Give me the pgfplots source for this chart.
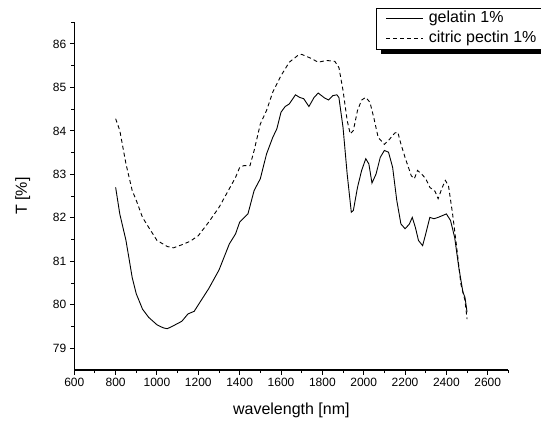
\documentclass[border=0pt]{standalone}
\usepackage{pgfplots}
\pgfplotsset{compat=1.18}
\usepackage{fontspec}
\setmainfont{Liberation Sans}

\begin{document}
\begin{tikzpicture}
% page = 541 x 423 bp, axis box at origin
\useasboundingbox (-74.3bp,-53bp) rectangle (466.7bp,370bp);
\begin{axis}[
  name=ax,
  at={(0,0)}, anchor=south west,
  scale only axis,
  width=434.1bp, height=347.8bp,
  xmin=600, xmax=2700,
  ymin=78.5, ymax=86.5,
  axis x line*=bottom, axis y line*=left,
  xtick={600,800,...,2600},
  minor xtick={700,900,...,2700},
  ytick={79,80,...,86},
  minor ytick={79.5,80.5,...,86.5},
  xtick pos=bottom, ytick pos=left,
  tick align=outside,
  major tick length=4.5bp, minor tick length=3bp,
  every tick/.style={black, line width=1bp},
  axis line style={black, line width=1.2bp},
  /pgf/number format/1000 sep={},
  /pgf/number format/assume math mode=true,
  ticklabel style={font=\fontsize{12bp}{14bp}\selectfont},
  xlabel={wavelength [nm]},
  ylabel={T [\%]},
  label style={font=\fontsize{16bp}{19bp}\selectfont},
  xlabel style={at={(axis description cs:0.5,-0.115)}, anchor=center},
  ylabel style={at={(axis description cs:-0.119,0.5)}, anchor=center},
  legend style={name=leg, at={(0.695,1.042)}, anchor=north west,
    draw=black, line width=0.8bp, fill=white,
    font=\fontsize{16bp}{19bp}\selectfont,
    inner xsep=9.5bp, inner ysep=0.5bp, row sep=0bp,
    nodes={inner xsep=2.5bp, inner ysep=1.5bp, text height=13bp, text depth=4bp}},
  legend cell align=left,
  legend image code/.code={\draw[#1] (0bp,0bp) -- (36.7bp,0bp); \path (39.5bp,0bp);},
]

% gelatin 1%
\addplot[black, line width=0.9bp, mark=none] coordinates {
  (800,82.70) (820,82.09) (850,81.48) (880,80.63) (900,80.25) (930,79.90)
  (960,79.71) (1000,79.54) (1030,79.47) (1050,79.45) (1080,79.52) (1120,79.62)
  (1150,79.79) (1180,79.85) (1200,80.00) (1250,80.37) (1300,80.80) (1350,81.40)
  (1380,81.63) (1400,81.90) (1420,82.00) (1440,82.09) (1470,82.63) (1500,82.90)
  (1530,83.47) (1560,83.85) (1580,84.05) (1600,84.43) (1620,84.56) (1640,84.62)
  (1670,84.83) (1690,84.77) (1710,84.74) (1735,84.56) (1760,84.77) (1780,84.87)
  (1810,84.76) (1830,84.71) (1850,84.81) (1870,84.83) (1880,84.77) (1900,84.08)
  (1920,83.01) (1940,82.13) (1950,82.17) (1970,82.70) (1990,83.09) (2010,83.36)
  (2025,83.24) (2040,82.80) (2060,83.01) (2080,83.39) (2100,83.55) (2120,83.51)
  (2140,83.16) (2160,82.40) (2180,81.86) (2200,81.75) (2220,81.85) (2235,82.01)
  (2250,81.78) (2265,81.48) (2285,81.36) (2300,81.63) (2320,82.01) (2340,81.98)
  (2360,82.01) (2380,82.05) (2400,82.09) (2420,81.94) (2440,81.55) (2460,80.86)
  (2480,80.29) (2490,80.17) (2500,79.83)
};
\addlegendentry{gelatin 1\%}

% citric pectin 1%
\addplot[black, line width=0.9bp, mark=none, dash pattern=on 4bp off 3bp] coordinates {
  (800,84.28) (820,84.01) (850,83.24) (880,82.63) (900,82.40) (930,82.01)
  (960,81.78) (1000,81.48) (1050,81.34) (1080,81.31) (1120,81.38) (1160,81.46)
  (1200,81.59) (1250,81.90) (1300,82.24) (1350,82.67) (1380,82.93) (1400,83.16)
  (1420,83.20) (1450,83.20) (1470,83.55) (1500,84.16) (1530,84.47) (1560,84.89)
  (1600,85.27) (1640,85.58) (1680,85.73) (1700,85.76) (1740,85.68) (1780,85.58)
  (1820,85.62) (1860,85.60) (1880,85.46) (1900,84.93) (1920,84.24) (1935,83.93)
  (1950,84.01) (1970,84.47) (1990,84.71) (2010,84.77) (2030,84.66) (2050,84.28)
  (2070,83.85) (2100,83.69) (2120,83.78) (2150,83.95) (2165,83.97) (2180,83.70)
  (2200,83.39) (2230,82.97) (2245,82.90) (2260,83.09) (2280,83.01) (2300,82.90)
  (2320,82.70) (2345,82.61) (2360,82.44) (2380,82.70) (2395,82.86) (2410,82.74)
  (2430,82.09) (2450,81.32) (2470,80.48) (2490,80.10) (2500,79.67)
};
\addlegendentry{citric pectin 1\%}

\end{axis}
% legend shadow: only the bottom strip shows inside the page
\fill[black] ([xshift=4.5bp,yshift=-5bp]leg.south west) rectangle ([xshift=4.5bp]leg.south east);
\end{tikzpicture}
\end{document}
